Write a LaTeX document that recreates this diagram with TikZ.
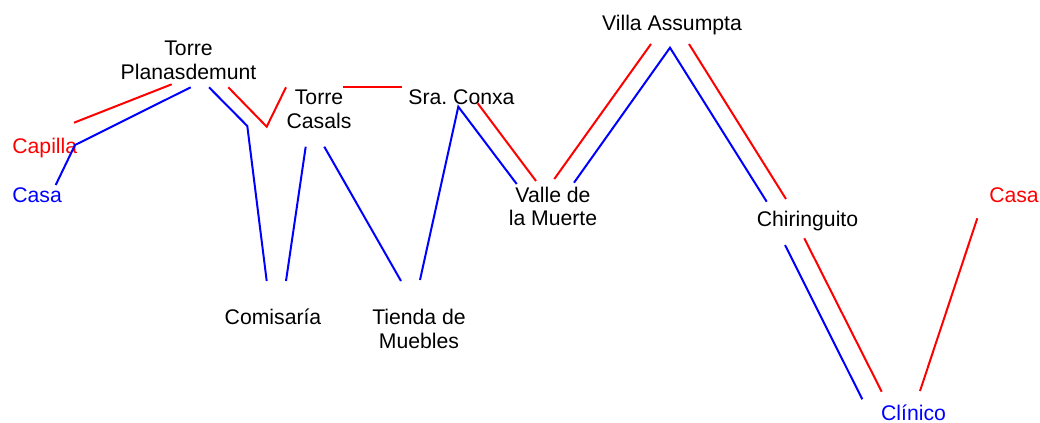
\documentclass[tikz,border=0pt]{standalone}
\usepackage{fontspec}
\setmainfont{Liberation Sans}
\definecolor{rr}{RGB}{255,0,0}
\definecolor{bb}{RGB}{0,0,255}
\begin{document}
\begin{tikzpicture}[x=0.5pt,y=-0.5pt,
  lbl/.style={inner sep=0pt,anchor=base,align=center,font=\fontsize{10.6pt}{11.8pt}\selectfont},
  rl/.style={draw=rr,line width=1pt},
  bl/.style={draw=bb,line width=1pt}]
\useasboundingbox[fill=white] (0,0) rectangle (1040,423);
% labels (base anchor = baseline of the last line)
\node[lbl] (tp) at (188.5,79.3) {Torre\\Planasdemunt};
\node[lbl,anchor=base west,text=rr] (cap) at (12,153) {Capilla};
\node[lbl,anchor=base west,text=bb] (casaL) at (12,202) {Casa};
\node[lbl] (tc) at (319,128) {Torre\\Casals};
\node[lbl] (sc) at (461.5,104) {Sra.\ Conxa};
\node[lbl] (vm) at (553,225.7) {Valle de\\la Muerte};
\node[lbl] (va) at (672,30.7) {Villa Assumpta};
\node[lbl] (ch) at (807.5,226.7) {Chiringuito};
\node[lbl,text=rr] (casaR) at (1014,202) {Casa};
\node[lbl,text=bb] (cl) at (913.5,420) {Clínico};
\node[lbl] (com) at (273,324) {Comisaría};
\node[lbl] (tm) at (419,348) {Tienda de\\Muebles};
% connector end points
\coordinate (r1a) at (74,122.7);   \coordinate (r1b) at (171.7,84.3);
\coordinate (b1a) at (55.7,185);   \coordinate (b1b) at (75,145);   \coordinate (b1c) at (190.7,87.3);
\coordinate (b2a) at (209,87.3);   \coordinate (b2b) at (247.3,126); \coordinate (b2c) at (266.7,281);
\coordinate (r2a) at (228.3,87.3); \coordinate (r2b) at (266.7,126.7); \coordinate (r2c) at (286,87.3);
\coordinate (r3a) at (343.3,87.3); \coordinate (r3b) at (401.7,87.3);
\coordinate (b3a) at (305.7,146.7); \coordinate (b3b) at (286,281);
\coordinate (b4a) at (324.3,146.7); \coordinate (b4b) at (401,281);
\coordinate (b5a) at (420,280);    \coordinate (b5b) at (458.3,106.7); \coordinate (b5c) at (516.7,184);
\coordinate (r4a) at (477.7,103.3); \coordinate (r4b) at (536,181);
\coordinate (r5a) at (554.3,179);  \coordinate (r5b) at (651,44);
\coordinate (b6a) at (574,182.7);  \coordinate (b6b) at (670,47.7); \coordinate (b6c) at (766.7,201.7);
\coordinate (r6a) at (689,44);     \coordinate (r6b) at (786,199);
\coordinate (b7a) at (785,245);    \coordinate (b7b) at (862.3,399.3);
\coordinate (r7a) at (804.3,238.3); \coordinate (r7b) at (881.7,391.7);
\coordinate (r8a) at (920,391);    \coordinate (r8b) at (977.3,218.3);
% connectors
\draw[rl] (r1a) -- (r1b);
\draw[bl] (b1a) -- (b1b) -- (b1c);
\draw[bl] (b2a) -- (b2b) -- (b2c);
\draw[rl] (r2a) -- (r2b) -- (r2c);
\draw[rl] (r3a) -- (r3b);
\draw[bl] (b3a) -- (b3b);
\draw[bl] (b4a) -- (b4b);
\draw[bl] (b5a) -- (b5b) -- (b5c);
\draw[rl] (r4a) -- (r4b);
\draw[rl] (r5a) -- (r5b);
\draw[bl] (b6a) -- (b6b) -- (b6c);
\draw[rl] (r6a) -- (r6b);
\draw[bl] (b7a) -- (b7b);
\draw[rl] (r7a) -- (r7b);
\draw[rl] (r8a) -- (r8b);
\end{tikzpicture}
\end{document}
